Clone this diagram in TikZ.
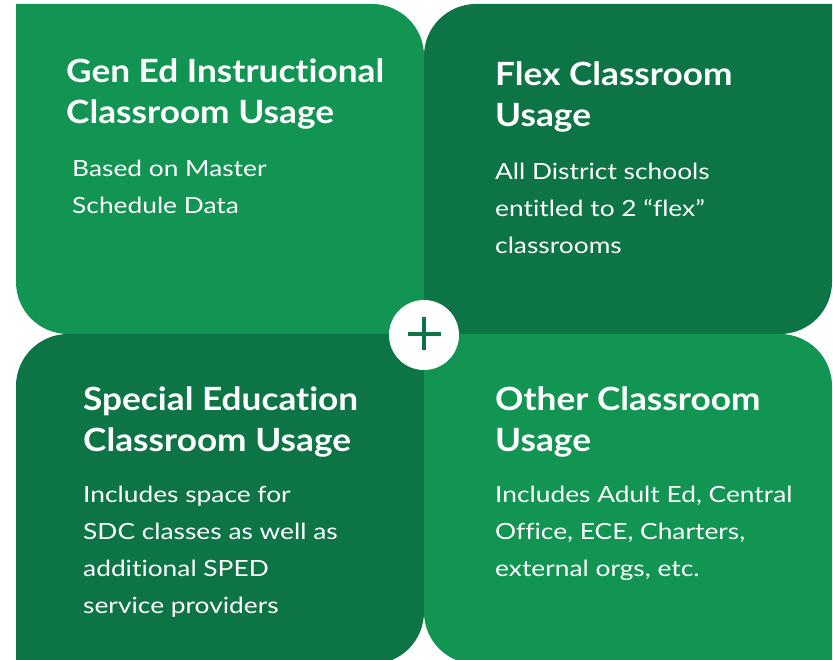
\documentclass[tikz,border=0pt]{standalone}
\usepackage{fontspec}
\setmainfont{Lato}[Ligatures=NoCommon]
\newfontfamily\headfont{Lato}[Ligatures=NoCommon, FakeStretch=1.10]
\newfontfamily\bodyfont{Lato}[Ligatures=NoCommon, FakeStretch=1.18]
\definecolor{lightGreen}{HTML}{129553}
\definecolor{darkGreen}{HTML}{0D7545}

\begin{document}
\begin{tikzpicture}[
  x=1pt, y=1pt,
  head/.style={anchor=north west, inner sep=0pt, align=left, text=white,
    font=\headfont\fontsize{32}{41}\selectfont\bfseries},
  body/.style={anchor=north west, inner sep=0pt, align=left, text=white,
    font=\bodyfont\fontsize{22.3}{37}\selectfont}
]
\useasboundingbox (0,0) rectangle (833,659);
\clip (0,0) rectangle (833,659);
\def\rr{52}

% four panels
\fill[lightGreen] (16,655) -- (372,655) arc[start angle=90, end angle=0, radius=\rr]
  -- (424,325) -- (68,325) arc[start angle=270, end angle=180, radius=\rr] -- cycle;
\fill[darkGreen] (832,655) -- (832,377) arc[start angle=0, end angle=-90, radius=\rr]
  -- (424,325) -- (424,603) arc[start angle=180, end angle=90, radius=\rr] -- cycle;
\fill[darkGreen] (424,325) -- (68,325) arc[start angle=90, end angle=180, radius=\rr]
  -- (16,-5) -- (372,-5) arc[start angle=270, end angle=360, radius=\rr] -- cycle;
\fill[lightGreen] (424,325) -- (780,325) arc[start angle=90, end angle=0, radius=\rr]
  -- (832,-5) -- (476,-5) arc[start angle=270, end angle=180, radius=\rr] -- cycle;

% plus in the middle
\fill[white] (424,324) circle[radius=35];
\draw[darkGreen, line width=4.5pt] (407.5,325) -- (440.5,325) (424,308.5) -- (424,341.5);

% texts
\node[head] (genHead) at (66,600) {Gen Ed Instructional\\Classroom Usage};
\node[body] (genBody) at (72,499) {Based on Master\\Schedule Data};
\node[head] (flexHead) at (495,597) {Flex Classroom\\Usage};
\node[body] (flexBody) at (495,496) {All District schools\\entitled to 2 “flex”\\classrooms};
\node[head] (spedHead) at (83,272) {Special Education\\Classroom Usage};
\node[body] (spedBody) at (83,173) {Includes space for\\SDC classes as well as\\additional SPED\\service providers};
\node[head] (otherHead) at (495,272) {Other Classroom\\Usage};
\node[body] (otherBody) at (495,173) {Includes Adult Ed, Central\\Office, ECE, Charters,\\external orgs, etc.};
\end{tikzpicture}
\end{document}
